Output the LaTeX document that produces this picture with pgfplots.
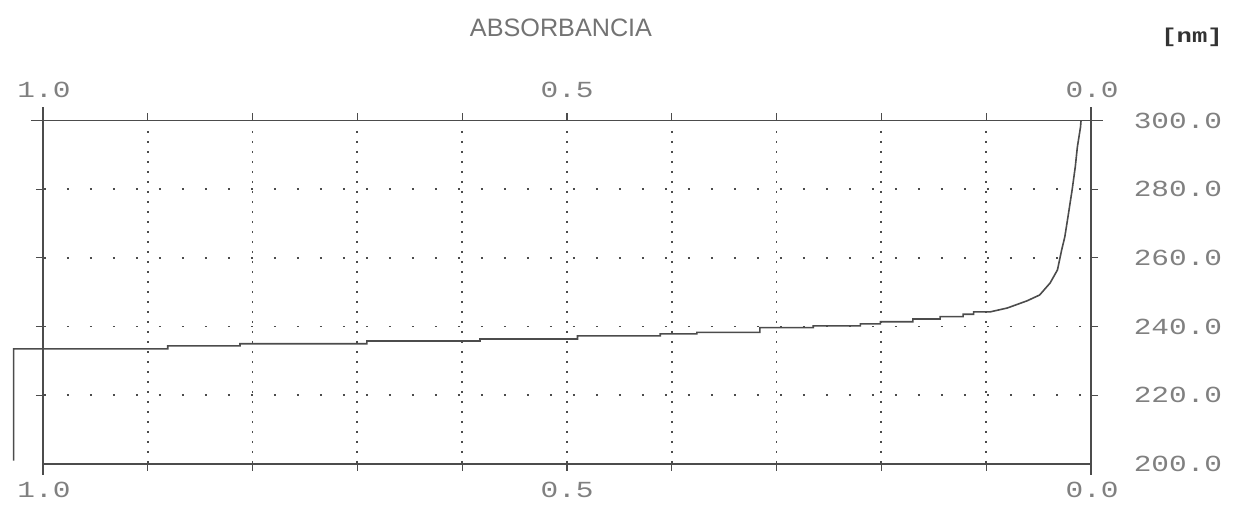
\documentclass[border=0pt]{standalone}
\usepackage{fontspec}
\setmainfont{Liberation Sans}
\newfontfamily\dotfont[FakeStretch=1.28]{Liberation Mono}
\usepackage{pgfplots}
\pgfplotsset{compat=1.18}
\definecolor{ink}{gray}{0.3}
\definecolor{lbl}{gray}{0.5}
\pgfplotstableread{
A lambda
1.028 201.0
1.028 233.5
0.881 233.5
0.881 234.4
0.812 234.4
0.812 235.0
0.691 235.0
0.691 235.8
0.583 235.8
0.583 236.4
0.490 236.4
0.490 237.3
0.411 237.3
0.411 237.9
0.376 237.9
0.376 238.3
0.316 238.3
0.316 239.7
0.265 239.7
0.265 240.2
0.220 240.2
0.220 240.8
0.201 240.8
0.201 241.4
0.170 241.4
0.170 242.2
0.144 242.2
0.144 242.9
0.122 242.9
0.122 243.6
0.112 243.6
0.112 244.3
0.096 244.3
0.080 245.4
0.061 247.5
0.049 249.2
0.039 252.7
0.032 256.5
0.028 262.3
0.025 266.1
0.022 271.9
0.018 279.8
0.015 286.5
0.013 292.3
0.010 298.1
0.0095 300.0
}\curve
\begin{document}
\begin{tikzpicture}
\begin{axis}[
  scale only axis, width=524pt, height=171.75pt,
  at={(0,0)}, anchor=south west,
  xmin=0, xmax=1, ymin=200, ymax=300, x dir=reverse,
  axis line style={draw=none},
  xtick={0.1,0.2,0.3,0.4,0.5,0.6,0.7,0.8,0.9},
  ytick={220,240,260,280},
  xticklabels={}, yticklabels={},
  tick style={ink, line width=0.6pt},
  tick align=outside, major tick length=3.5pt,
  clip=false,
]
\pgfplotsinvokeforeach{0.1,0.2,0.3,0.4,0.5,0.6,0.7,0.8,0.9}{
  \draw[ink, line width=0.9pt, dash pattern=on 0.9pt off 4.1pt] (axis cs:#1,297) -- (axis cs:#1,200);
}
\pgfplotsinvokeforeach{220,240,260,280}{
  \draw[ink, line width=0.9pt, dash pattern=on 0.9pt off 10.6pt, dash phase=-12pt] (axis cs:1,#1) -- (axis cs:0,#1);
}
\draw[ink, line width=0.7pt] (axis cs:1.0115,300) -- (axis cs:-0.0115,300);
\draw[ink, line width=0.7pt] (axis cs:1,200) -- (axis cs:0,200);
\draw[ink, line width=0.7pt] (axis cs:1,196.8) -- (axis cs:1,303.9);
\draw[ink, line width=0.7pt] (axis cs:0,196.8) -- (axis cs:0,303.9);
\addplot[ink, line width=0.8pt] table[x=A, y=lambda] {\curve};
\pgfplotsinvokeforeach{200,220,240,260,280,300}{
  \node[lbl, font=\dotfont\fontsize{11.5}{12}\selectfont] at (axis cs:-0.083,#1) {#1.0};
}
\end{axis}
\begin{scope}[lbl, font=\dotfont\fontsize{11.5}{12}\selectfont]
\node at (0.5pt,187pt) {1.0};
\node at (262pt,187pt) {0.5};
\node at (524.5pt,187pt) {0.0};
\node at (0.5pt,-13pt) {1.0};
\node at (262pt,-13pt) {0.5};
\node at (524.5pt,-13pt) {0.0};
\end{scope}
\node[color={gray!90!black}, font=\fontsize{12.6}{14}\selectfont] at (259pt,218pt) {ABSORBANCIA};
\node[black!80, font=\dotfont\bfseries\fontsize{10}{12}\selectfont] at (574.5pt,213.5pt) {[nm]};
\path (-21.5pt,-19pt) rectangle (596.5pt,232pt);
\end{tikzpicture}
\end{document}
